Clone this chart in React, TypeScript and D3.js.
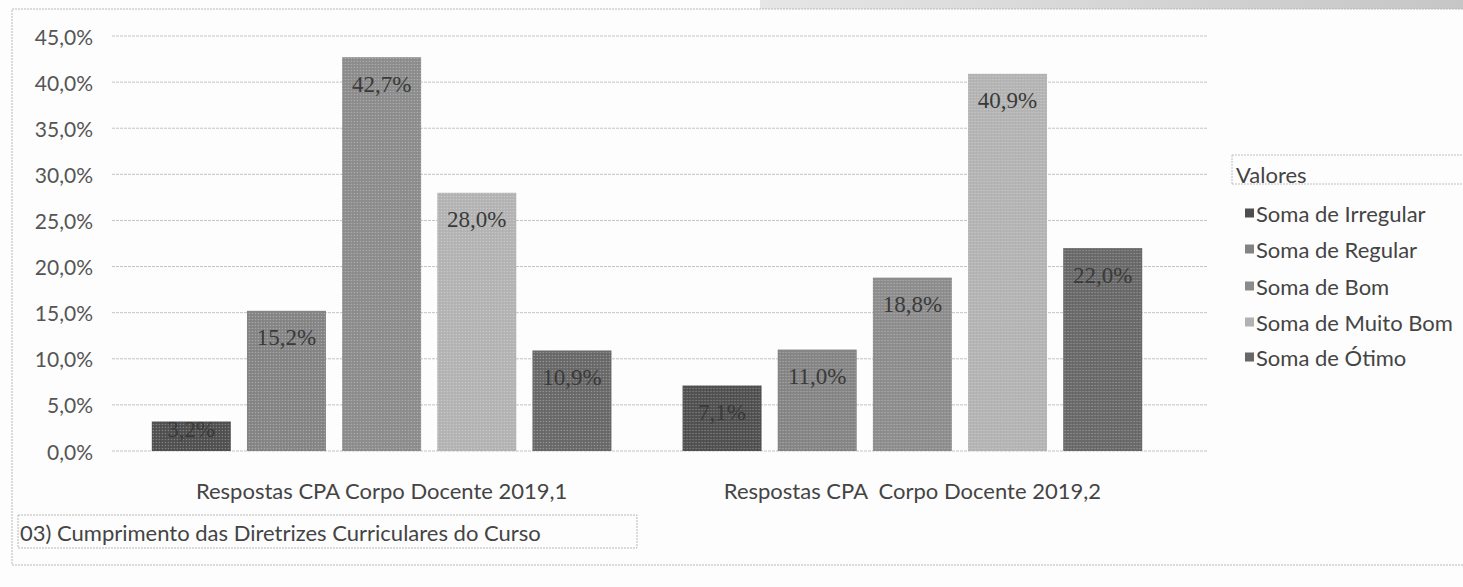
import React from 'react';
import * as d3 from 'd3';

const categories = ['Respostas CPA Corpo Docente 2019,1', 'Respostas CPA  Corpo Docente 2019,2'];
const seriesNames = ['Soma de Irregular', 'Soma de Regular', 'Soma de Bom', 'Soma de Muito Bom', 'Soma de Ótimo'];
const irregular = [3.2, 7.1];
const regular = [15.2, 11.0];
const bom = [42.7, 18.8];
const muitoBom = [28.0, 40.9];
const otimo = [10.9, 22.0];
const yTicks = [0, 5, 10, 15, 20, 25, 30, 35, 40, 45];
const colors = ['#4e4e4e', '#838383', '#8b8b8b', '#b2b2b2', '#676767'];
const chartTitle = '03) Cumprimento das Diretrizes Curriculares do Curso';
const legendTitle = 'Valores';

const W = 1463;
const H = 587;
const sansFont = 'Lato, "Open Sans", sans-serif';
const serifFont = '"Liberation Serif", "DejaVu Serif", serif';

const fmt = (v: number) => v.toFixed(1).replace('.', ',') + '%';

export default function App() {
  const series = [irregular, regular, bom, muitoBom, otimo];
  const x0 = d3.scaleBand<string>().domain(categories).range([112, 1182]).paddingInner(0.134).paddingOuter(0.075);
  const x1 = d3.scaleBand<string>().domain(seriesNames).range([0, x0.bandwidth()]).paddingInner(0.17).paddingOuter(0);
  const y = d3.scaleLinear().domain([0, 45]).range([451, 36]);
  const gridX0 = 112;
  const gridX1 = 1207;
  const legendY = [213, 249, 286, 322, 357];

  return (
    <svg width={W} height={H} style={{ position: 'absolute', left: 0, top: 0, background: '#fdfdfd' }}>
      <defs>
        <pattern id="dots" width="3" height="3" patternUnits="userSpaceOnUse">
          <circle cx="1.5" cy="1.5" r="0.7" fill="#ffffff" opacity="0.35" />
        </pattern>
        <linearGradient id="strip" x1="0" x2="1" y1="0" y2="0">
          <stop offset="0" stopColor="#e6e6e6" />
          <stop offset="1" stopColor="#c6c6c6" />
        </linearGradient>
      </defs>
      <rect x={0} y={0} width={W} height={H} fill="#fdfdfd" />
      {/* scan artifact strip top right */}
      <rect x={760} y={0} width={W - 760} height={9} fill="url(#strip)" />
      {/* outer dotted border */}
      <rect x={12} y={9} width={W} height={556} fill="none" stroke="#b8b8b8" strokeWidth={1} strokeDasharray="2,1" />

      {/* grid lines */}
      {yTicks.map((t) => (
        <line key={'g' + t} x1={gridX0} x2={gridX1} y1={y(t)} y2={y(t)} stroke="#c4c4c4" strokeWidth={1} strokeDasharray="3,1" />
      ))}

      {/* y-axis labels */}
      {yTicks.map((t) => (
        <text key={'yt' + t} x={93} y={y(t)} textAnchor="end" dominantBaseline="central" fontFamily={sansFont} fontSize={21} fill="#555">
          {t.toFixed(1).replace('.', ',') + '%'}
        </text>
      ))}

      {/* bars */}
      {categories.map((c, ci) => (
        <g key={c} transform={`translate(${x0(c)},0)`}>
          {seriesNames.map((s, si) => {
            const v = series[si][ci];
            const bx = x1(s) as number;
            const top = y(v);
            const bh = y(0) - top;
            const ly = Math.min(top + 27, y(0) - 22);
            return (
              <g key={s}>
                <rect x={bx} y={top} width={x1.bandwidth()} height={bh} fill={colors[si]} />
                <rect x={bx} y={top} width={x1.bandwidth()} height={bh} fill="url(#dots)" />
                <text x={bx + x1.bandwidth() / 2} y={ly} textAnchor="middle" dominantBaseline="central" fontFamily={serifFont} fontSize={23} fill="#3a3a3a">
                  {fmt(v)}
                </text>
              </g>
            );
          })}
        </g>
      ))}

      {/* category labels */}
      {categories.map((c) => (
        <text key={'cl' + c} x={(x0(c) as number) + x0.bandwidth() / 2} y={490} textAnchor="middle" dominantBaseline="central" fontFamily={sansFont} fontSize={22} fill="#444" style={{ whiteSpace: 'pre' }}>
          {c}
        </text>
      ))}

      {/* title box */}
      <rect x={18} y={515} width={619} height={33} fill="none" stroke="#b8b8b8" strokeWidth={1} strokeDasharray="2,1" />
      <text x={20} y={532} dominantBaseline="central" fontFamily={sansFont} fontSize={22} fill="#444">
        {chartTitle}
      </text>

      {/* legend */}
      <line x1={1232} x2={W} y1={155} y2={155} stroke="#c0c0c0" strokeDasharray="2,1" />
      <line x1={1232} x2={W} y1={184} y2={184} stroke="#c0c0c0" strokeDasharray="2,1" />
      <line x1={1232} x2={1232} y1={155} y2={184} stroke="#c0c0c0" strokeDasharray="2,1" />
      <text x={1236} y={174} dominantBaseline="central" fontFamily={sansFont} fontSize={22} fill="#444">
        {legendTitle}
      </text>
      {seriesNames.map((s, si) => (
        <g key={'lg' + s}>
          <rect x={1245} y={legendY[si] - 4.5} width={9} height={9} fill={colors[si]} />
          <text x={1256} y={legendY[si]} dominantBaseline="central" fontFamily={sansFont} fontSize={22} fill="#444">
            {s}
          </text>
        </g>
      ))}
    </svg>
  );
}
